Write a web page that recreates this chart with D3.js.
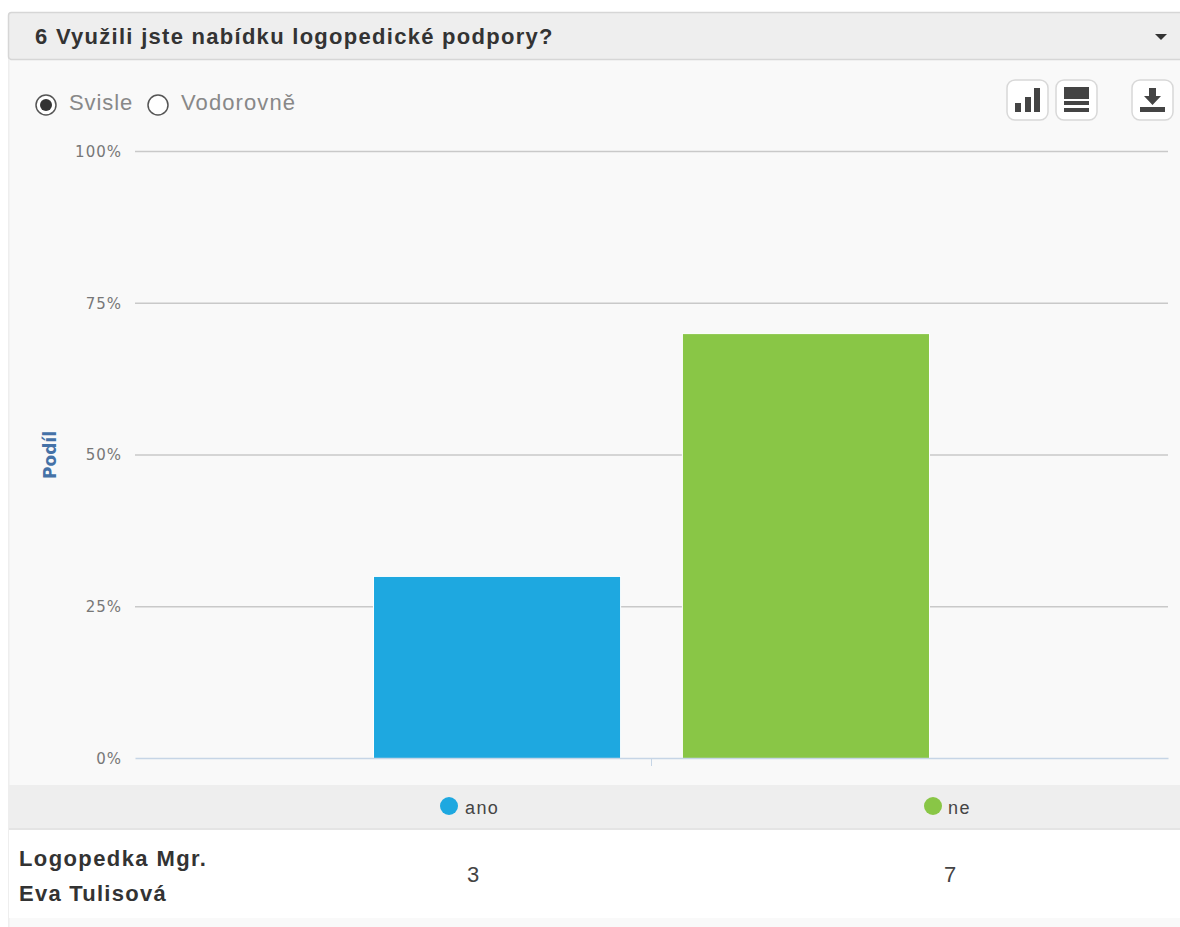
<!DOCTYPE html>
<html>
<head>
<meta charset="utf-8">
<script src="https://cdn.jsdelivr.net/npm/d3@7"></script>
<style>
  html, body { margin: 0; padding: 0; background: #fff; overflow: hidden; }
  text { font-family: "Liberation Sans", Arial, sans-serif; }
</style>
</head>
<body>
<script>
// data
var series = ["ano", "ne"];
var shares = [30, 70];
var counts = [3, 7];
var seriesColors = ["#1ea8e0", "#89c646"];
var group = ["Logopedka Mgr. Eva Tulisová"];
var yTicks = [0, 25, 50, 75, 100];
var legendCenters = [470, 948];

var svg = d3.select("body").append("svg")
            .attr("width", 1180)
            .attr("height", 927);

// panel background
svg.append("rect").attr("x", 9).attr("y", 12).attr("width", 1171).attr("height", 915).attr("fill", "#f9f9f9");
svg.append("rect").attr("x", 8.5).attr("y", 12.5).attr("width", 1180).attr("height", 47)
   .attr("rx", 3).attr("fill", "#eeeeee").attr("stroke", "#d6d6d6").attr("stroke-width", 1.5);
svg.append("rect").attr("x", 8).attr("y", 59).attr("width", 1.5).attr("height", 868).attr("fill", "#eeeeee");

svg.append("text").attr("x", 35).attr("y", 44)
   .attr("font-size", 22).attr("font-weight", "bold").attr("fill", "#333")
   .attr("letter-spacing", 1.28)
   .text("6 Využili jste nabídku logopedické podpory?");
svg.append("path").attr("d", "M1155 34h12l-6 6z").attr("fill", "#333");

// radio buttons
svg.append("circle").attr("cx", 46).attr("cy", 105).attr("r", 10).attr("fill", "#fff").attr("stroke", "#555").attr("stroke-width", 1.5);
svg.append("circle").attr("cx", 46).attr("cy", 105).attr("r", 6).attr("fill", "#333");
svg.append("text").attr("x", 69).attr("y", 110).attr("font-size", 22).attr("letter-spacing", 0.9).attr("fill", "#888").text("Svisle");
svg.append("circle").attr("cx", 158).attr("cy", 105).attr("r", 10).attr("fill", "#fff").attr("stroke", "#555").attr("stroke-width", 1.5);
svg.append("text").attr("x", 181).attr("y", 110).attr("font-size", 22).attr("letter-spacing", 1.1).attr("fill", "#888").text("Vodorovně");

// toolbar buttons
[1007, 1056, 1132].forEach(function (x) {
  svg.append("rect").attr("x", x).attr("y", 80).attr("width", 41).attr("height", 40).attr("rx", 8)
     .attr("fill", "#fff").attr("stroke", "#d8d8d8").attr("stroke-width", 1.5);
});
svg.append("path").attr("fill", "#444").attr("d", "M1015 103h6v9h-6zM1025 97h6v15h-6zM1034 88h6v24h-6z");
svg.append("path").attr("fill", "#444").attr("d", "M1064 87h25v12h-25zM1064 101h25v4h-25zM1064 108h25v4h-25z");
svg.append("path").attr("fill", "#444").attr("d", "M1149 88h7v8h5l-8.500 9-8.500-9h5zM1140 107h25v5h-25z");

// scales
var y = d3.scaleLinear().domain([0, 100]).range([758.5, 151.5]);
var x0 = d3.scaleBand().domain(group).range([135, 1168]).paddingOuter(0.429).paddingInner(0);
var x1 = d3.scaleBand().domain(series).range([0, x0.bandwidth()]).paddingInner(0.2).paddingOuter(0);

// grid and y axis
var yAxis = d3.axisLeft(y).tickValues(yTicks).tickSize(0).tickPadding(13)
              .tickFormat(function (d) { return d + "%"; });
var yAxisG = svg.append("g").attr("transform", "translate(135,0)").call(yAxis);
yAxisG.select(".domain").remove();
yAxisG.selectAll("text").attr("fill", "#777").attr("letter-spacing", 1)
      .style("font-family", "'DejaVu Sans', sans-serif").style("font-size", "15px");

svg.append("g").selectAll("line")
   .data(yTicks.filter(function (d) { return d > 0; }))
   .enter()
   .append("line")
   .attr("x1", 135).attr("x2", 1168)
   .attr("y1", function (d) { return y(d); })
   .attr("y2", function (d) { return y(d); })
   .attr("stroke", "#c9c9c9").attr("stroke-width", 1.5);

// bars
svg.append("g").selectAll("rect")
   .data(series)
   .enter()
   .append("rect")
   .attr("x", function (d) { return x0(group[0]) + x1(d); })
   .attr("y", function (d, i) { return y(shares[i]); })
   .attr("width", x1.bandwidth())
   .attr("height", function (d, i) { return y(0) - y(shares[i]); })
   .attr("fill", function (d, i) { return seriesColors[i]; })
   .attr("stroke", "#fff").attr("stroke-width", 1);

// x axis
var xAxisG = svg.append("g").attr("transform", "translate(0,758)")
                .call(d3.axisBottom(x0).tickSize(8).tickSizeOuter(0).tickFormat(""));
xAxisG.select(".domain").attr("stroke", "#c6d5e6").attr("stroke-width", 1.5);
xAxisG.selectAll(".tick line").attr("stroke", "#c6d5e6").attr("stroke-width", 1);

svg.append("text")
   .attr("transform", "translate(56,455) rotate(-90)")
   .attr("text-anchor", "middle")
   .attr("font-size", 17).attr("font-weight", "bold").attr("fill", "#4572a7")
   .style("font-family", "'DejaVu Sans', sans-serif")
   .text("Podíl");

// legend row
svg.append("rect").attr("x", 9).attr("y", 785).attr("width", 1171).attr("height", 43).attr("fill", "#eeeeee");
svg.append("rect").attr("x", 9).attr("y", 828).attr("width", 1171).attr("height", 2).attr("fill", "#e4e4e4");

var legend = svg.append("g").selectAll("g")
   .data(series)
   .enter()
   .append("g");
legend.append("circle")
   .attr("cx", function (d, i) { return legendCenters[i] - (i === 0 ? 21 : 15); })
   .attr("cy", 806).attr("r", 9)
   .attr("fill", function (d, i) { return seriesColors[i]; });
legend.append("text")
   .attr("x", function (d, i) { return legendCenters[i] - (i === 0 ? 5 : 0); })
   .attr("y", 814)
   .attr("font-size", 18).attr("letter-spacing", 1.4).attr("fill", "#444")
   .text(function (d) { return d; });

// table row
svg.append("rect").attr("x", 9).attr("y", 830).attr("width", 1171).attr("height", 88).attr("fill", "#fff");
svg.append("text").attr("x", 19).attr("y", 866).attr("font-size", 22).attr("letter-spacing", 1.4).attr("font-weight", "bold").attr("fill", "#333").text("Logopedka Mgr.");
svg.append("text").attr("x", 19).attr("y", 901).attr("font-size", 22).attr("letter-spacing", 1.25).attr("font-weight", "bold").attr("fill", "#333").text("Eva Tulisová");
svg.append("g").selectAll("text")
   .data(counts)
   .enter()
   .append("text")
   .attr("x", function (d, i) { return legendCenters[i] + (i === 0 ? 3 : 2); })
   .attr("y", 882)
   .attr("text-anchor", "middle")
   .attr("font-size", 22).attr("fill", "#444")
   .text(function (d) { return d; });
</script>
</body>
</html>
